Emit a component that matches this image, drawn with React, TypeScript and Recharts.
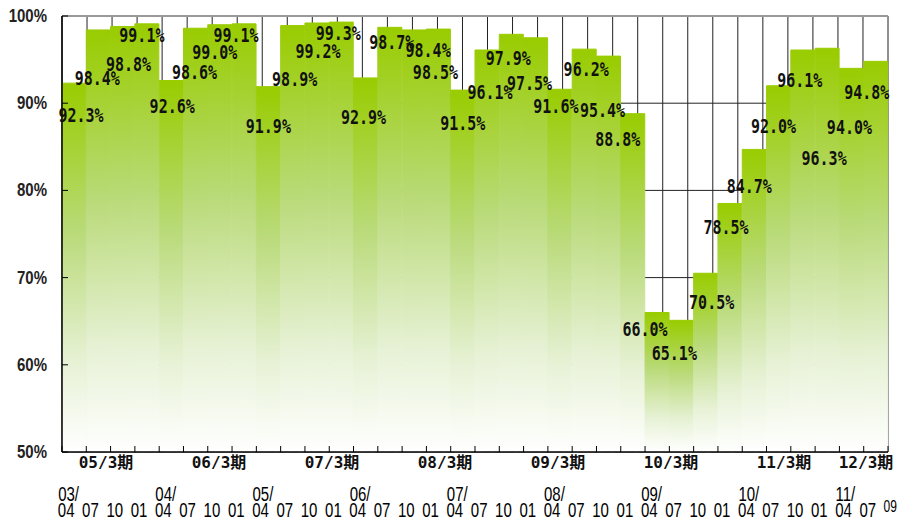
import { BarChart, Bar, XAxis, YAxis, CartesianGrid, LabelList, ReferenceLine } from "recharts";

// quarters, "YY/MM"
const periods = [
  "03/04", "03/07", "03/10", "04/01",
  "04/04", "04/07", "04/10", "05/01",
  "05/04", "05/07", "05/10", "06/01",
  "06/04", "06/07", "06/10", "07/01",
  "07/04", "07/07", "07/10", "08/01",
  "08/04", "08/07", "08/10", "09/01",
  "09/04", "09/07", "09/10", "10/01",
  "10/04", "10/07", "10/10", "11/01",
  "11/04", "11/07",
];

const rates = [
  92.3, 98.4, 98.8, 99.1,
  92.6, 98.6, 99.0, 99.1,
  91.9, 98.9, 99.2, 99.3,
  92.9, 98.7, 98.4, 98.5,
  91.5, 96.1, 97.9, 97.5,
  91.6, 96.2, 95.4, 88.8,
  66.0, 65.1, 70.5, 78.5,
  84.7, 92.0, 96.1, 96.3,
  94.0, 94.8,
];

const fiscalYears = ["05/3期", "06/3期", "07/3期", "08/3期", "09/3期", "10/3期", "11/3期", "12/3期"];
const trailingLabel = "09";

const majorTicks = [50, 60, 70, 80, 90, 100];
const minorTicks = [50, 52, 54, 56, 58, 60, 62, 64, 66, 68, 70, 72, 74, 76, 78, 80, 82, 84, 86, 88, 90, 92, 94, 96, 98, 100];
const edgeTicks = Array.from({ length: periods.length + 1 }, (_, i) => i);

// hand-placed label nudges (px from bar centre / bar top), like the original
const labelDx = [7, -1, 6, -5, 1, -1, -5, -8, 0, 2, 1, -3, -2, 2, 14, -3, 0, 3, -3, -6, -4, 2, -6, -15, -12, -7, 6, -4, -5, -5, -3, -3, -2, -9];
const labelDy = [32, 48, 38, 11, 26, 44, 28, 11, 40, 54, 28, 11, 39, 15, 20, 43, 33, 42, 24, 45, 17, 20, 54, 26, 17, 33, 29, 24, 37, 41, 30, 110, 59, 31];

const data = periods.map((p, i) => ({ period: p, rate: rates[i] }));

const sans = "'Liberation Sans', Arial, sans-serif";
const mono = "'DejaVu Sans Mono', 'Liberation Mono', monospace";

function MonthTick(props: any) {
  const { x, y, payload, index } = props;
  const [yy, mm] = String(payload.value).split("/");
  const half = payload.offset || 0;
  const last = index === periods.length - 1;
  return (
    <g>
      <line x1={x - half} x2={x - half} y1={y - 6} y2={y} stroke="#000" />
      {last && <line x1={x + half} x2={x + half} y1={y - 6} y2={y} stroke="#000" />}
      {mm === "04" && (
        <text transform={`translate(${x - 16},${y + 49}) scale(1,1.35)`} fontFamily={sans} fontSize={15} fill="#000">
          {yy}/
        </text>
      )}
      <text transform={`translate(${x - 8},${y + 65}) scale(1,1.35)`} textAnchor="middle" fontFamily={sans} fontSize={15} fill="#000">
        {mm}
      </text>
      {last && (
        <text transform={`translate(${x + 21},${y + 60}) scale(1,1.3)`} textAnchor="end" fontFamily={sans} fontSize={12} fill="#000">
          {trailingLabel}
        </text>
      )}
    </g>
  );
}

function PctTick(props: any) {
  const { x, y, payload } = props;
  return (
    <g>
      <line x1={x + 15} x2={x + 21} y1={y} y2={y} stroke="#000" />
      <text
        transform={`translate(${x},${y}) scale(1,1.2)`}
        textAnchor="end"
        dominantBaseline="central"
        fontFamily={sans}
        fontWeight="bold"
        fontSize={15}
        fill="#222"
      >
        {payload.value}%
      </text>
    </g>
  );
}

function RateLabel(props: any) {
  const { x, y, width, value, index } = props;
  const cx = x + width / 2 + labelDx[index];
  const cy = y + labelDy[index];
  return (
    <text
      transform={`translate(${cx},${cy}) scale(1,1.3)`}
      textAnchor="middle"
      dominantBaseline="central"
      fontFamily={mono}
      fontWeight="bold"
      fontSize={15}
      fill="#111"
    >
      {Number(value).toFixed(1)}%
    </text>
  );
}

export default function App() {
  return (
    <div style={{ position: "absolute", left: 0, top: 0, width: 898, height: 522, background: "#fff" }}>
      <BarChart
        width={898}
        height={522}
        data={data}
        margin={{ top: 16, right: 10, bottom: 0, left: 0 }}
        barCategoryGap={0}
        barGap={0}
      >
        <defs>
          <linearGradient id="barFill" x1="0" y1="0" x2="0" y2="1">
            <stop offset="0%" stopColor="#99cc00" />
            <stop offset="40%" stopColor="#b9da78" />
            <stop offset="75%" stopColor="#e6f1d4" />
            <stop offset="100%" stopColor="#ffffff" />
          </linearGradient>
        </defs>
        <XAxis
          xAxisId="cat"
          dataKey="period"
          height={70}
          interval={0}
          axisLine={{ stroke: "#000", strokeWidth: 1.5 }}
          tickLine={false}
          tickSize={0}
          tickMargin={0}
          tick={<MonthTick />}
        />
        <XAxis xAxisId="edge" type="number" domain={[0, periods.length]} ticks={edgeTicks} orientation="top" hide />
        <YAxis
          yAxisId="major"
          domain={[50, 100]}
          ticks={majorTicks}
          width={62}
          axisLine={{ stroke: "#000", strokeWidth: 1.5 }}
          tickLine={false}
          tickSize={0}
          tickMargin={15}
          tick={<PctTick />}
        />
        <YAxis yAxisId="minor" domain={[50, 100]} ticks={minorTicks} hide />
        <CartesianGrid xAxisId="edge" yAxisId="minor" vertical={false} stroke="#555" strokeDasharray="7 5" />
        <CartesianGrid xAxisId="edge" yAxisId="major" stroke="#222" />
        <Bar
          xAxisId="cat"
          yAxisId="major"
          dataKey="rate"
          fill="url(#barFill)"
          stroke="url(#barFill)"
          strokeWidth={1}
          isAnimationActive={false}
        >
          <LabelList dataKey="rate" content={<RateLabel />} />
        </Bar>
        <ReferenceLine xAxisId="edge" yAxisId="major" y={100} stroke="#999" strokeWidth={2} />
        <ReferenceLine xAxisId="edge" yAxisId="major" x={periods.length} stroke="#999" strokeWidth={2} />
      </BarChart>
      {fiscalYears.map((fy, i) => (
        <div
          key={fy}
          style={{
            position: "absolute",
            left: Math.min(106 + 113 * i, 866),
            top: 455,
            transform: "translateX(-50%)",
            fontFamily: "'DejaVu Sans Mono', 'Noto Sans CJK JP', monospace",
            fontWeight: "bold",
            fontSize: 16,
            lineHeight: "16px",
            whiteSpace: "nowrap",
            color: "#111",
          }}
        >
          {fy}
        </div>
      ))}
    </div>
  );
}
